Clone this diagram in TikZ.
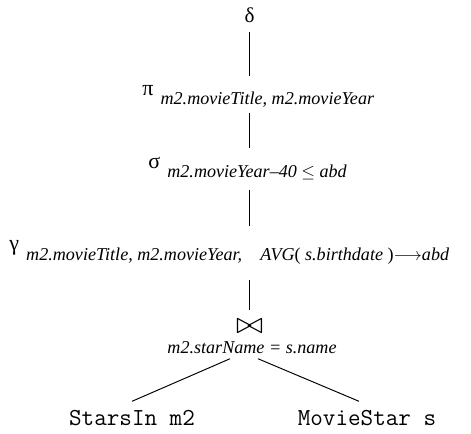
\documentclass[tikz,border=0pt]{standalone}
\usepackage{fontspec}
\setmainfont{Liberation Serif}
\usetikzlibrary{arrows}
\tikzstyle{rel}=[font=\fontsize{13.9}{16}\ttfamily,inner sep=0pt,anchor=base]
\tikzstyle{oper}=[font=\fontsize{10.3}{12}\selectfont\itshape,inner sep=0pt,anchor=base west]
\tikzstyle{qtree}=[line width=0.55pt,shorten <=5pt,shorten >=5pt]
\newcommand{\opsym}[1]{\raisebox{5.5pt}{\upshape\fontsize{12.5}{14}\selectfont #1}\hspace{4pt}}

\begin{document}
\begin{tikzpicture}[qtree]
\useasboundingbox (0,0) rectangle (9.42,8.66);
\node[inner sep=0pt,font=\fontsize{12}{14}\selectfont] (delta) at (4.99,8.36) {δ};
\node[oper] (pi) at (2.84,6.56) {\opsym{π}m2.movieTitle, m2.movieYear};
\node[oper] (sigma) at (2.96,5.1) {\opsym{σ}m2.movieYear\textendash 40 $\leq$ abd};
\node[oper] (gamma) at (0.18,3.46) {\opsym{γ}m2.movieTitle, m2.movieYear,\quad AVG\textup{(} s.birthdate \textup{)}$\longrightarrow$abd};
\node[inner sep=0pt] (join) at (4.99,2.14) {\resizebox{0.54cm}{0.28cm}{$\bowtie$}};
\node[oper,anchor=base] (cond) at (5.04,1.6) {m2.starName = s.name};
\node[rel] (starsin) at (2.64,0.16) {StarsIn m2};
\node[rel] (moviestar) at (7.34,0.16) {MovieStar s};
\draw (delta) -- (delta |- pi.north);\draw[shorten <=2.5pt] (delta |- pi.south) -- (delta |- sigma.north);
\draw[shorten >=8pt] (delta |- sigma.south) -- (delta |- gamma.north);\draw[shorten <=9pt] (delta |- gamma.south) -- (join);
\draw[shorten <=0pt,shorten >=0pt] ([xshift=-0.44cm,yshift=-0.1cm]cond.south) -- ([yshift=0.16cm]starsin.north);
\draw[shorten <=0pt,shorten >=0pt] ([xshift=0.12cm,yshift=-0.1cm]cond.south) -- ([xshift=-0.16cm,yshift=0.16cm]moviestar.north);
\end{tikzpicture}
\end{document}
